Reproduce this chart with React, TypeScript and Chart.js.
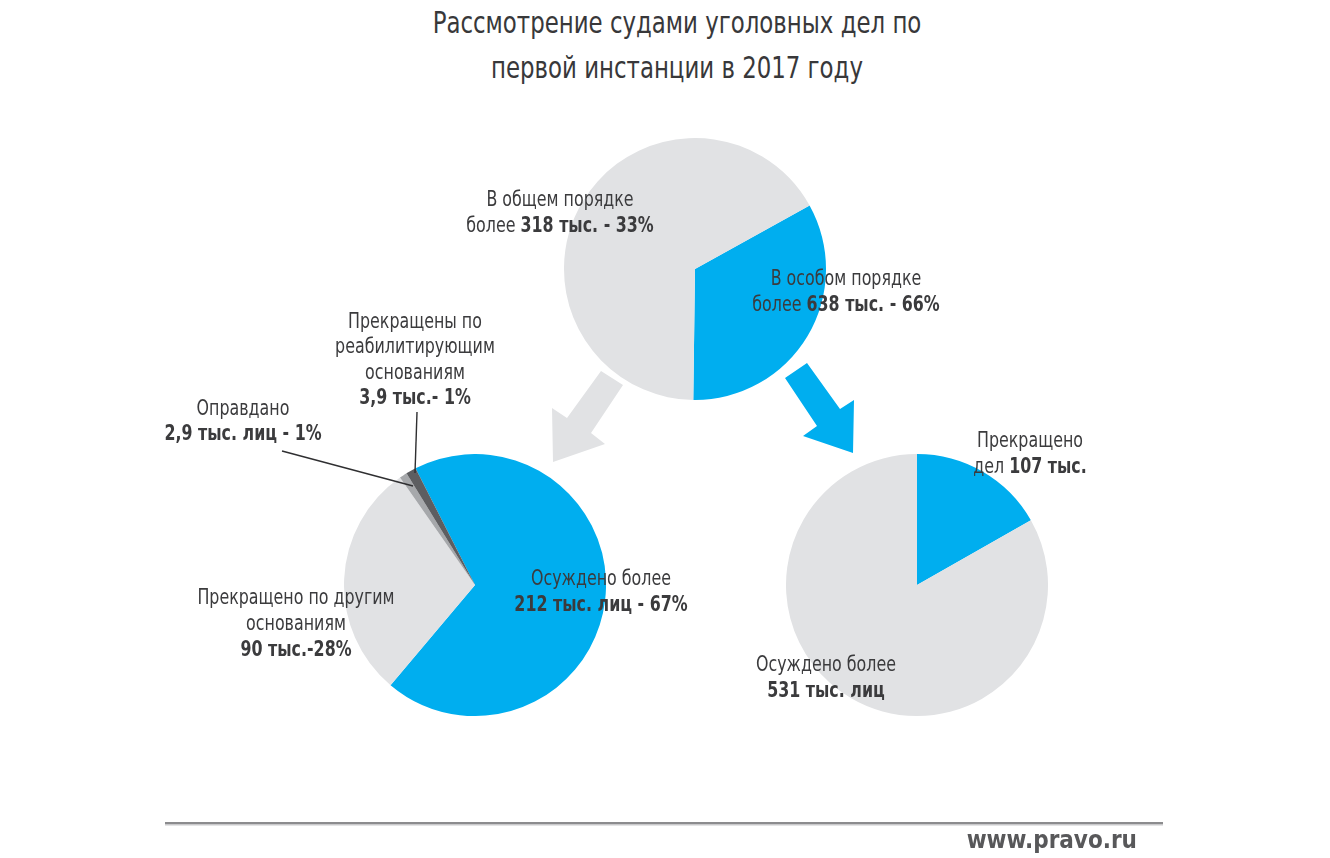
import React, { useEffect, useRef } from "react";
import { Chart, registerables } from "chart.js";

Chart.register(...registerables);

// ---- Data ----
const topLabels = ["В общем порядке (318 тыс.)", "В особом порядке (638 тыс.)"];
const topValues = [318, 638];
const topColors = ["#00aeef", "#e1e2e4"];
const topRotation = 61;

const leftLabels = ["Осуждено", "Прекращено по другим основаниям", "Оправдано", "Прекращены по реабилитирующим основаниям"];
const leftValues = [212, 90, 2.9, 3.9];
const leftColors = ["#00aeef", "#e1e2e4", "#a6a8ab", "#5d5e61"];
const leftRotation = -27;

const rightLabels = ["Прекращено дел", "Осуждено"];
const rightValues = [107, 531];
const rightColors = ["#00aeef", "#e1e2e4"];
const rightRotation = 0;

const titleLines = ["Рассмотрение судами уголовных дел по", "первой инстанции в 2017 году"];

const FONT = '"DejaVu Sans Condensed", "DejaVu Sans", sans-serif';
const TEXT = "#3b3b3d";

type PieProps = { cx: number; cy: number; r: number; labels: string[]; values: number[]; colors: string[]; rotation: number };

function Pie({ cx, cy, r, labels, values, colors, rotation }: PieProps) {
  const ref = useRef<HTMLCanvasElement | null>(null);
  useEffect(() => {
    if (!ref.current) return;
    const chart = new Chart(ref.current, {
      type: "pie",
      data: {
        labels,
        datasets: [{ data: values, backgroundColor: colors, borderWidth: 0, hoverOffset: 0 }],
      },
      options: {
        responsive: false,
        maintainAspectRatio: false,
        animation: false,
        rotation,
        layout: { padding: 0 },
        plugins: { legend: { display: false }, tooltip: { enabled: false } },
        events: [],
      },
    });
    return () => chart.destroy();
  }, []);
  return (
    <canvas
      ref={ref}
      width={2 * r}
      height={2 * r}
      style={{ position: "absolute", left: cx - r, top: cy - r, width: 2 * r, height: 2 * r }}
    />
  );
}

function Label({ x, y, lines, lh = 25.5 }: { x: number; y: number; lines: (string | React.ReactNode)[]; lh?: number }) {
  return (
    <div
      style={{
        position: "absolute",
        left: x - 200,
        top: y - 12,
        width: 400,
        textAlign: "center",
        fontFamily: FONT,
        fontSize: 21,
        lineHeight: lh + "px",
        color: TEXT,
        whiteSpace: "nowrap",
        transform: "scaleX(0.84)",
        transformOrigin: "50% 50%",
      }}
    >
      {lines.map((l, i) => (
        <div key={i}>{l}</div>
      ))}
    </div>
  );
}

const B = ({ children }: { children: React.ReactNode }) => <b style={{ fontWeight: 700 }}>{children}</b>;

export default function App() {
  return (
    <div style={{ position: "absolute", left: 0, top: 0, width: 1330, height: 858, background: "#fff", overflow: "hidden" }}>
      {/* Title */}
      <div
        style={{
          position: "absolute",
          left: 0,
          top: 0,
          width: 1354,
          textAlign: "center",
          fontFamily: FONT,
          fontSize: 31,
          lineHeight: "45px",
          color: "#38383a",
          transform: "scaleX(0.82)",
          transformOrigin: "677px 50%",
        }}
      >
        {titleLines.map((l, i) => (
          <div key={i}>{l}</div>
        ))}
      </div>

      <Pie cx={695} cy={269} r={131} labels={topLabels} values={topValues} colors={topColors} rotation={topRotation} />
      <Pie cx={475} cy={585} r={131} labels={leftLabels} values={leftValues} colors={leftColors} rotation={leftRotation} />
      <Pie cx={917} cy={585} r={131} labels={rightLabels} values={rightValues} colors={rightColors} rotation={rightRotation} />

      <svg width={1330} height={858} style={{ position: "absolute", left: 0, top: 0 }}>
        <polygon points="601,371 623,385 591,433 605,444 553,462 552,408 567,418" fill="#e1e2e4" />
        <polygon points="785,378 807,363 840,409 854,400 853,453 803,436 817,426" fill="#00aeef" />
        <line x1={282} y1={451} x2={413} y2={486} stroke="#2f2f31" strokeWidth={1.4} />
        <line x1={417} y1={412} x2={415} y2={473} stroke="#2f2f31" strokeWidth={1.4} />
        <rect x={165} y={822} width={998} height={2} fill="#8c8c8e" />
        <rect x={165} y={824} width={998} height={1.5} fill="#c9c9cb" />
      </svg>

      <Label x={560} y={198} lines={["В общем порядке", <>более <B>318 тыс. - 33%</B></>]} lh={26} />
      <Label x={846} y={277} lines={["В особом порядке", <>более <B>638 тыс. - 66%</B></>]} lh={26} />
      <Label
        x={415}
        y={320.5}
        lines={["Прекращены по", "реабилитирующим", "основаниям", <B>3,9 тыс.- 1%</B>]}
      />
      <Label x={243} y={407.5} lines={["Оправдано", <B>2,9 тыс. лиц - 1%</B>]} />
      <Label x={601} y={577} lines={["Осуждено более", <B>212 тыс. лиц - 67%</B>]} lh={26} />
      <Label x={296} y={595.5} lines={["Прекращено по другим", "основаниям", <B>90 тыс.-28%</B>]} lh={26} />
      <Label x={1030} y={439} lines={["Прекращено", <>дел <B>107 тыс.</B></>]} lh={26} />
      <Label x={826} y={663} lines={["Осуждено более", <B>531 тыс. лиц</B>]} lh={26} />

      <div
        style={{
          position: "absolute",
          left: 887,
          top: 825,
          width: 250,
          textAlign: "right",
          fontFamily: FONT,
          fontSize: 24,
          fontWeight: 700,
          lineHeight: "30px",
          color: "#58585a",
          transform: "scaleX(1.0)",
          transformOrigin: "100% 50%",
        }}
      >
        www.pravo.ru
      </div>
    </div>
  );
}
